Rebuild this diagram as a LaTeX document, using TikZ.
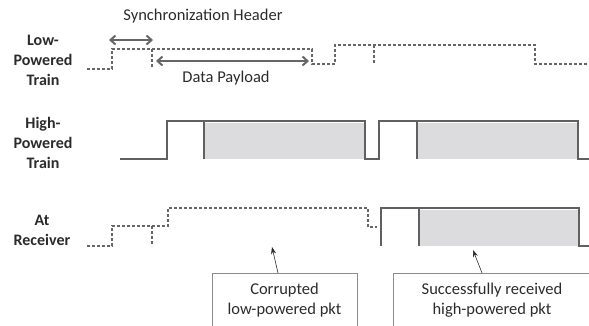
\documentclass[tikz,border=0pt]{standalone}
\usepackage{fontspec}
\setmainfont{Carlito}
\usetikzlibrary{arrows.meta}
\definecolor{wave}{HTML}{606060}
\definecolor{dwave}{HTML}{666666}
\definecolor{pktfill}{HTML}{DCDCDE}
\definecolor{boxline}{HTML}{8C8C8C}
\definecolor{txt}{HTML}{2B2B2B}
\tikzset{
  solidwave/.style={draw=wave, line width=2pt, line join=miter},
  dashwave/.style={draw=dwave, line width=2.2pt, dash pattern=on 3pt off 2pt},
  pkt/.style={fill=pktfill},
  dimarrow/.style={draw=dwave, line width=2pt, {Straight Barb[length=5pt,width=9pt]}-{Straight Barb[length=5pt,width=9pt]}},
  rowlabel/.style={font=\fontsize{16}{20}\selectfont\bfseries, text=txt, align=center},
  plainlabel/.style={font=\fontsize{16.5}{20}\selectfont, text=txt, align=center},
  notebox/.style={draw=boxline, line width=0.8pt},
  notearrow/.style={draw=txt, line width=0.6pt, -{Stealth[length=7pt,width=5pt]}}
}
\begin{document}
\begin{tikzpicture}[x=1pt,y=-1pt]
\useasboundingbox (0,0) rectangle (589,325);
\clip (0,0) rectangle (589,325);
% row labels
\node[rowlabel] (lpl) at (43,60) {Low-\\Powered\\Train};
\node[rowlabel] (hpl) at (43,143) {High-\\Powered\\Train};
\node[rowlabel] (rxl) at (42,230) {At\\Receiver};
% packet fills
\fill[pkt] (205,123) rectangle (364,159);
\fill[pkt] (418,123) rectangle (577,159);
\fill[pkt] (420,210) rectangle (578,246);
% low-powered train
\draw[dashwave] (87,69) -- (112,69) -- (112,49) -- (312,49) -- (312,64) -- (335,64) -- (335,45) -- (535,45) -- (535,64) -- (592,64);
\draw[dashwave] (152,49) -- (152,68);
\draw[dashwave] (374,45) -- (374,64);
% high-powered train
\draw[solidwave] (120,159) -- (167,159) -- (167,121) -- (365,121) -- (365,159) -- (379,159) -- (379,121) -- (578,121) -- (578,159) -- (592,159);
\draw[solidwave] (204,121) -- (204,159);
\draw[solidwave] (417,121) -- (417,159);
% at receiver
\draw[dashwave] (87,246) -- (112,246) -- (112,226) -- (168,226) -- (168,208) -- (368,208) -- (368,227) -- (377,227);
\draw[dashwave] (152,226) -- (152,246);
\draw[solidwave] (381,246) -- (381,208) -- (579,208) -- (579,246) -- (592,246);
\draw[solidwave] (419,208) -- (419,246);
% dimension arrows
\coordinate (sh1) at (109,40);
\coordinate (sh2) at (153,40);
\coordinate (dp1) at (156,61);
\coordinate (dp2) at (309,61);
\draw[dimarrow] (sh1) -- (sh2);
\draw[dimarrow] (dp1) -- (dp2);
\node[plainlabel] (shl) at (203,16) {Synchronization Header};
\node[plainlabel] (dpl) at (226,78) {Data Payload};
% annotation boxes
\draw[notebox] (212,340) -- (212,273) -- (357,273) -- (357,340);
\draw[notebox] (393,340) -- (393,273) -- (600,273);
\node[plainlabel] (n1) at (284.5,300) {Corrupted\\low-powered pkt};
\node[plainlabel] (n2) at (492,300) {Successfully received\\high-powered pkt};
\coordinate (b1top) at (278,273);
\coordinate (b1tip) at (272,247);
\coordinate (b2top) at (482,273);
\coordinate (b2tip) at (473,250);
\draw[notearrow] (b1top) -- (b1tip);
\draw[notearrow] (b2top) -- (b2tip);
\end{tikzpicture}
\end{document}
